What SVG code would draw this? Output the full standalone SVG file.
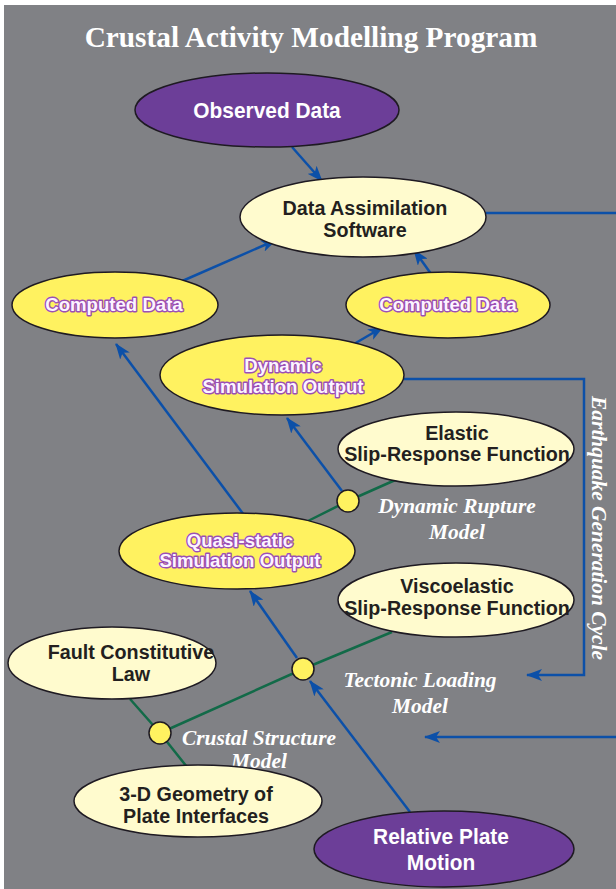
<svg xmlns="http://www.w3.org/2000/svg" width="616" height="889" viewBox="0 0 616 889">
  <style>
    .purple { fill: #6c3e98; stroke: #1e1a22; stroke-width: 1.5; }
    .cream { fill: #fffbce; stroke: #1e1a22; stroke-width: 1.5; }
    .yellow { fill: #fff260; stroke: #1e1a22; stroke-width: 1.5; }
    .dot { fill: #fff260; stroke: #1e1a22; stroke-width: 1.5; }
    .lbl-w { font-family: "Liberation Sans", Arial, sans-serif; font-weight: bold; font-size: 22px; fill: #ffffff; text-anchor: middle; }
    .lbl-k { font-family: "Liberation Sans", Arial, sans-serif; font-weight: bold; font-size: 21px; fill: #231f20; text-anchor: middle; }
    .lbl-y { font-family: "Liberation Sans", Arial, sans-serif; font-weight: bold; font-size: 18.6px; fill: #fdf4ff; stroke: #9b4fb5; stroke-width: 2.8; paint-order: stroke; stroke-linejoin: round; text-anchor: middle; }
    .model { font-family: "Liberation Serif", "Times New Roman", serif; font-weight: bold; font-style: italic; font-size: 21.4px; fill: #ffffff; text-anchor: middle; }
    .flow { fill: none; stroke: #0c50a8; stroke-width: 2.5; }
    .link { fill: none; stroke: #126a48; stroke-width: 2.5; }
  </style>
  <defs>
    <marker id="arrow" viewBox="0 0 16 12" refX="15" refY="6" markerWidth="16" markerHeight="12" markerUnits="userSpaceOnUse" orient="auto">
      <path d="M0,0 L16,6 L0,12 L4,6 Z" fill="#0c50a8"/>
    </marker>
  </defs>

  <!-- page background -->
  <rect x="0" y="0" width="616" height="889" fill="#ffffff"/>
  <rect x="4" y="5" width="612" height="884" fill="#808185"/>

  <text x="311" y="47" font-family="'Liberation Serif', 'Times New Roman', serif" font-weight="bold" font-size="29.3" fill="#ffffff" text-anchor="middle">Crustal Activity Modelling Program</text>

  <g id="connectors">
    <!-- data flow (blue) -->
    <line class="flow" x1="292" y1="147" x2="322" y2="181" marker-end="url(#arrow)"/>
    <line class="flow" x1="180" y1="282" x2="276" y2="240" marker-end="url(#arrow)"/>
    <line class="flow" x1="434" y1="278" x2="414" y2="250" marker-end="url(#arrow)"/>
    <line class="flow" x1="354" y1="344" x2="383" y2="327" marker-end="url(#arrow)"/>
    <line class="flow" x1="342" y1="491" x2="287" y2="418" marker-end="url(#arrow)"/>
    <line class="flow" x1="244" y1="515" x2="116" y2="344" marker-end="url(#arrow)"/>
    <line class="flow" x1="297" y1="658" x2="250" y2="591" marker-end="url(#arrow)"/>
    <line class="flow" x1="410" y1="812" x2="310" y2="681" marker-end="url(#arrow)"/>
    <line class="flow" x1="486" y1="213" x2="616" y2="213"/>
    <polyline class="flow" points="404,379 584,379 584,675 527,675" marker-end="url(#arrow)"/>
    <line class="flow" x1="616" y1="737" x2="425" y2="737" marker-end="url(#arrow)"/>
    <!-- model composition (green) -->
    <polyline class="link" points="306,522 348,501 402,477"/>
    <polyline class="link" points="160,733 303,669 392,632"/>
    <polyline class="link" points="130,699 160,733 187,767"/>
  </g>

  <g id="observed-data">
    <ellipse class="purple" cx="267" cy="110" rx="132" ry="37"/>
    <text class="lbl-w" transform="translate(267,118) scale(0.95,1)">Observed Data</text>
  </g>

  <g id="data-assimilation">
    <ellipse class="cream" cx="363" cy="217" rx="123" ry="40"/>
    <text class="lbl-k" transform="translate(365,215) scale(0.94,1)">Data Assimilation</text>
    <text class="lbl-k" transform="translate(365,237) scale(0.94,1)">Software</text>
  </g>

  <g id="computed-data-left">
    <ellipse class="yellow" cx="115" cy="305" rx="103" ry="33"/>
    <text class="lbl-y" x="114" y="311">Computed Data</text>
  </g>

  <g id="computed-data-right">
    <ellipse class="yellow" cx="448" cy="305" rx="102" ry="33"/>
    <text class="lbl-y" x="448" y="311">Computed Data</text>
  </g>

  <g id="dynamic-output">
    <ellipse class="yellow" cx="282" cy="375" rx="122" ry="40"/>
    <text class="lbl-y" x="283" y="372">Dynamic</text>
    <text class="lbl-y" x="283" y="393">Simulation Output</text>
  </g>

  <g id="elastic-function">
    <ellipse class="cream" cx="456" cy="449" rx="118" ry="37"/>
    <text class="lbl-k" transform="translate(457,440) scale(0.94,1)">Elastic</text>
    <text class="lbl-k" transform="translate(457,461) scale(0.94,1)">Slip-Response Function</text>
  </g>

  <g id="dynamic-rupture">
    <circle class="dot" cx="348" cy="501" r="11"/>
    <text class="model" x="457" y="513">Dynamic Rupture</text>
    <text class="model" x="457" y="539">Model</text>
  </g>

  <g id="quasi-static-output">
    <ellipse class="yellow" cx="237" cy="551" rx="118" ry="38"/>
    <text class="lbl-y" x="240" y="547">Quasi-static</text>
    <text class="lbl-y" x="240" y="567">Simulation Output</text>
  </g>

  <g id="viscoelastic-function">
    <ellipse class="cream" cx="456" cy="600" rx="118" ry="37"/>
    <text class="lbl-k" transform="translate(457,593) scale(0.94,1)">Viscoelastic</text>
    <text class="lbl-k" transform="translate(457,615) scale(0.94,1)">Slip-Response Function</text>
  </g>

  <g id="tectonic-loading">
    <circle class="dot" cx="303" cy="669" r="11"/>
    <text class="model" x="420" y="687">Tectonic Loading</text>
    <text class="model" x="420" y="713">Model</text>
  </g>

  <g id="fault-law">
    <ellipse class="cream" cx="112" cy="663" rx="104" ry="36"/>
    <text class="lbl-k" transform="translate(131,659) scale(0.94,1)">Fault Constitutive</text>
    <text class="lbl-k" transform="translate(131,681) scale(0.94,1)">Law</text>
  </g>

  <g id="crustal-structure">
    <circle class="dot" cx="160" cy="733" r="11"/>
    <text class="model" x="259" y="745">Crustal Structure</text>
    <text class="model" x="259" y="768">Model</text>
  </g>

  <g id="plate-geometry">
    <ellipse class="cream" cx="198" cy="801" rx="124" ry="36"/>
    <text class="lbl-k" transform="translate(196,801) scale(0.94,1)">3-D Geometry of</text>
    <text class="lbl-k" transform="translate(196,823) scale(0.94,1)">Plate Interfaces</text>
  </g>

  <g id="plate-motion">
    <ellipse class="purple" cx="444" cy="849" rx="130" ry="38"/>
    <text class="lbl-w" transform="translate(441,844) scale(0.95,1)">Relative Plate</text>
    <text class="lbl-w" transform="translate(441,870) scale(0.95,1)">Motion</text>
  </g>

  <g id="cycle-label">
    <text class="model" transform="translate(592,528) rotate(90)" x="0" y="0">Earthquake Generation Cycle</text>
  </g>
</svg>
